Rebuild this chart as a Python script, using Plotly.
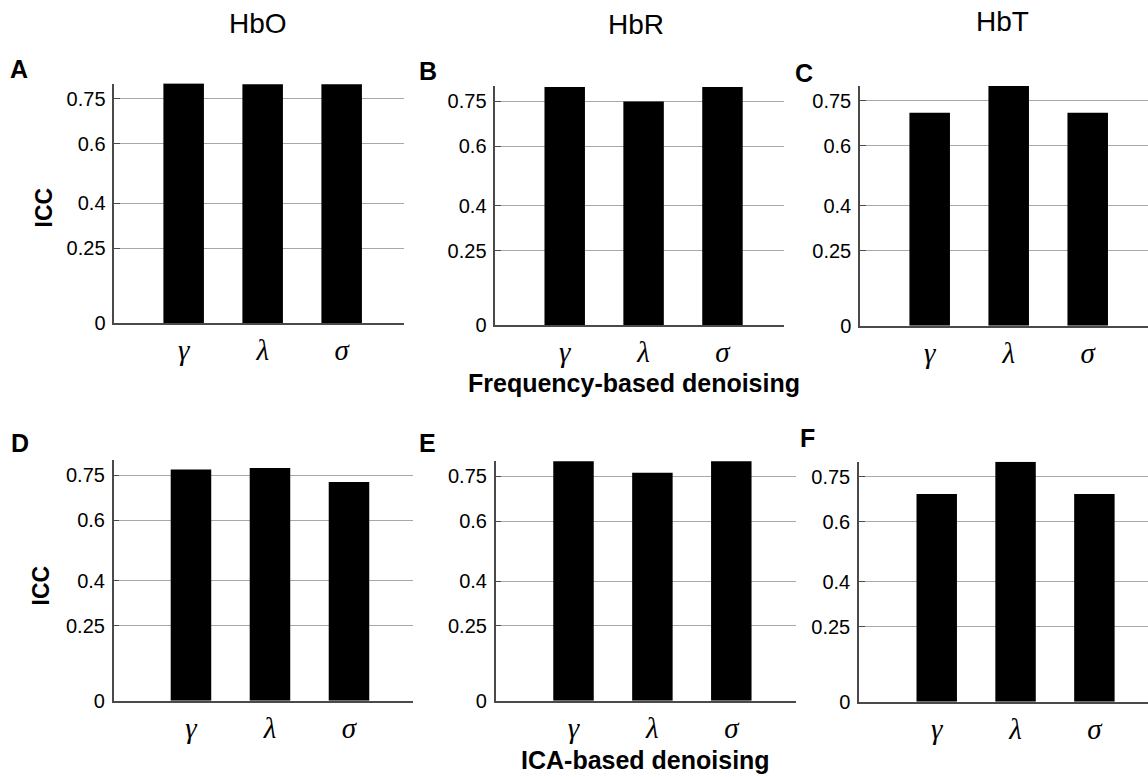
import plotly.graph_objects as go

# ---- data ----
categories = ["γ", "λ", "σ"]
freq_hbo = [0.801, 0.798, 0.798]
freq_hbr = [0.798, 0.749, 0.798]
freq_hbt = [0.710, 0.799, 0.710]
ica_hbo = [0.769, 0.774, 0.728]
ica_hbr = [0.801, 0.762, 0.801]
ica_hbt = [0.692, 0.800, 0.692]
ytick_vals = [0, 0.25, 0.4, 0.6, 0.75]
ytick_text = ["0", "0.25", "0.4", "0.6", "0.75"]
col_titles = ["HbO", "HbR", "HbT"]
panel_letters = ["A", "B", "C", "D", "E", "F"]
row_titles = ["Frequency-based denoising", "ICA-based denoising"]

W, H = 1148, 777
def fx(px):
    return px / W
def fy(py):
    return 1 - py / H

series = [freq_hbo, freq_hbr, freq_hbt, ica_hbo, ica_hbr, ica_hbt]
# panel geometry in pixels: (x0, x1, ytop, ybottom), x range
panels = [
    ((114.3, 404.0, 83.6, 323.3), [-0.878, 2.789]),
    ((495.3, 784.0, 86.3, 325.3), [-0.880, 2.780]),
    ((860.0, 1148.0, 85.7, 325.7), [-0.882, 2.763]),
    ((113.7, 413.3, 460.3, 700.7), [-0.978, 2.814]),
    ((495.7, 796.0, 461.3, 700.7), [-0.986, 2.820]),
    ((859.0, 1148.0, 461.7, 701.7), [-0.986, 2.680]),
]

fig = go.Figure()
layout = {}
AX = "#4a4a4a"
GRID = "#a8a8a8"
for i, (vals, (geom, xr)) in enumerate(zip(series, panels)):
    n = "" if i == 0 else str(i + 1)
    x0, x1, yt, yb = geom
    fig.add_trace(go.Bar(
        x=categories, y=vals, width=0.513,
        marker=dict(color="black", line=dict(width=0)),
        xaxis="x" + n, yaxis="y" + n, showlegend=False,
        hoverinfo="x+y",
    ))
    layout["xaxis" + n] = dict(
        domain=[fx(x0), fx(x1)], anchor="y" + n,
        type="category", range=xr,
        showline=True, linecolor=AX, linewidth=2,
        showgrid=False, zeroline=False, ticks="",
        tickfont=dict(family="Liberation Serif", size=29, color="black", style="italic"),
        ticklabelstandoff=0,
        automargin=False,
        fixedrange=True,
    )
    layout["yaxis" + n] = dict(
        domain=[fy(yb), fy(yt)], anchor="x" + n,
        range=[0, 0.8],
        tickmode="array", tickvals=ytick_vals, ticktext=ytick_text,
        showline=True, linecolor=AX, linewidth=1.5,
        showgrid=True, gridcolor=GRID, gridwidth=1.2,
        zeroline=False, ticks="inside", ticklen=6, tickcolor=AX, tickwidth=1,
        tickfont=dict(family="Liberation Sans", size=20, color="black"),
        ticklabelstandoff=3,
        automargin=False,
        fixedrange=True,
    )

annotations = []
# column titles
for t, (cx, cy) in zip(col_titles, [(258, 23), (636.3, 24), (1002.3, 22)]):
    annotations.append(dict(text=t, x=fx(cx), y=fy(cy), xref="paper", yref="paper",
                            showarrow=False, xanchor="center", yanchor="middle",
                            font=dict(family="Liberation Sans", size=28, color="black")))
# panel letters
for t, (cx, cy) in zip(panel_letters, [(19, 69), (427.5, 71.5), (804, 72.5),
                                       (19.5, 443), (427, 443), (807.5, 438)]):
    annotations.append(dict(text="<b>%s</b>" % t, x=fx(cx), y=fy(cy), xref="paper", yref="paper",
                            showarrow=False, xanchor="center", yanchor="middle",
                            font=dict(family="Liberation Sans", size=25, color="black")))
# ICC y-axis labels
for cx, cy in [(43, 207.5), (40, 585.5)]:
    annotations.append(dict(text="<b>ICC</b>", x=fx(cx), y=fy(cy), xref="paper", yref="paper",
                            showarrow=False, xanchor="center", yanchor="middle", textangle=-90,
                            font=dict(family="Liberation Sans", size=23, color="black")))
# row x-axis titles
for t, (cx, cy) in zip(row_titles, [(633.8, 383), (645.8, 760)]):
    annotations.append(dict(text="<b>%s</b>" % t, x=fx(cx), y=fy(cy), xref="paper", yref="paper",
                            showarrow=False, xanchor="center", yanchor="middle",
                            font=dict(family="Liberation Sans", size=25, color="black")))

fig.update_layout(
    width=W, height=H,
    margin=dict(l=0, r=0, t=0, b=0, pad=0, autoexpand=False),
    paper_bgcolor="white", plot_bgcolor="white",
    annotations=annotations,
    **layout,
)
fig.write_html("out.html")
